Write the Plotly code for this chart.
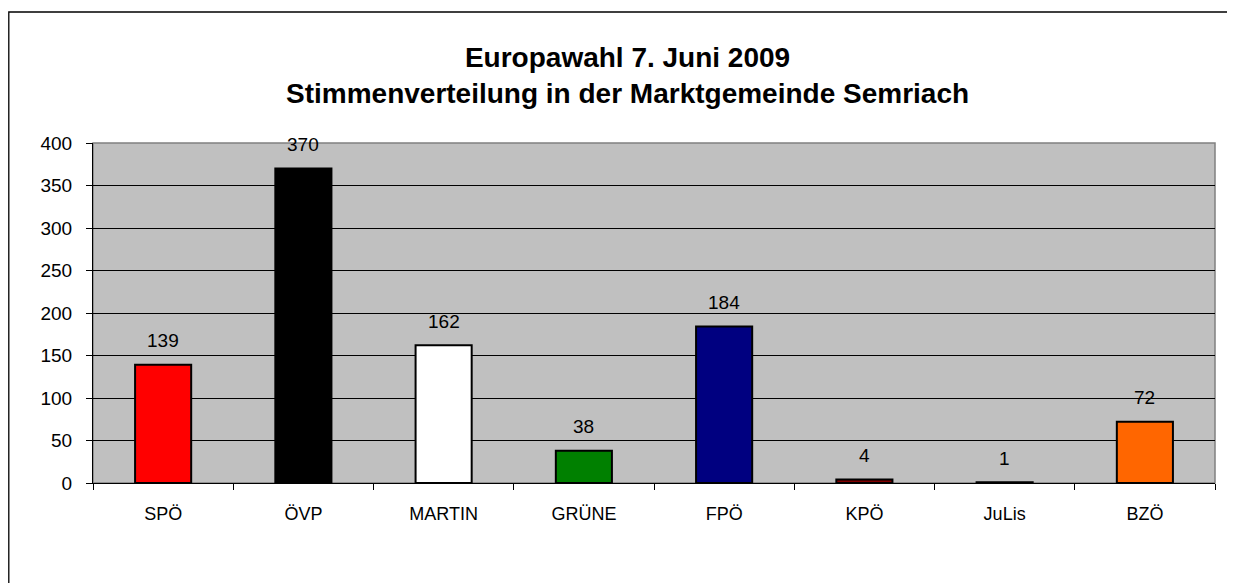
import plotly.graph_objects as go

parties = ["SPÖ", "ÖVP", "MARTIN", "GRÜNE", "FPÖ", "KPÖ", "JuLis", "BZÖ"]
votes = [139, 370, 162, 38, 184, 4, 1, 72]
colors = ["#FF0000", "#000000", "#FFFFFF", "#008000", "#000080", "#800000", "#000000", "#FF6600"]
y_ticks = [0, 50, 100, 150, 200, 250, 300, 350, 400]

FONT = "Liberation Sans, Arial, sans-serif"
# page body has an 8px default margin, so compensate
OFF = 8
L, T, PW, PH = 93 - OFF, 143 - OFF, 1122, 340
W, H = 1235 - OFF, 583 - OFF

fig = go.Figure()
fig.add_trace(go.Bar(
    x=parties, y=votes,
    marker=dict(color=colors, line=dict(color="#000000", width=2)),
    width=0.4,
    showlegend=False,
))

for p, v in zip(parties, votes):
    fig.add_annotation(x=p, y=v, text=str(v), showarrow=False,
                       yanchor="middle", yshift=24,
                       font=dict(family=FONT, size=19, color="#000000"))

fig.add_annotation(xref="paper", yref="paper", x=0.476, y=1.0, yanchor="middle",
                   yshift=68,
                   text="<b>Europawahl 7. Juni 2009<br>Stimmenverteilung in der Marktgemeinde Semriach</b>",
                   showarrow=False, align="center",
                   font=dict(family=FONT, size=28, color="#000000"))

# outer chart border
fig.add_shape(type="rect", xref="paper", yref="paper",
              x0=(0.8 - L) / PW, x1=1 + 40 / PW,
              y0=-(110) / PH, y1=1 + (T - 4) / PH,
              line=dict(color="#000000", width=1.3), fillcolor="rgba(0,0,0,0)",
              layer="below")

fig.update_layout(
    width=W, height=H,
    margin=dict(l=L, r=W - L - PW, t=T, b=H - T - PH),
    paper_bgcolor="#FFFFFF",
    plot_bgcolor="#C0C0C0",
    font=dict(family=FONT, size=18, color="#000000"),
    bargap=0.6,
)
fig.update_xaxes(
    type="category", tickson="boundaries", ticks="outside", ticklen=6,
    tickcolor="#000000", showline=True, linecolor="#000000", linewidth=1,
    showgrid=False, ticklabelstandoff=14,
    tickfont=dict(family=FONT, size=18, color="#000000"),
)
fig.update_yaxes(
    range=[0, 400], tickvals=y_ticks, ticks="outside", ticklen=6,
    tickcolor="#000000", showline=True, linecolor="#000000", linewidth=1,
    showgrid=True, gridcolor="#000000", gridwidth=1, zeroline=False,
    ticklabelstandoff=10,
    tickfont=dict(family=FONT, size=19, color="#000000"),
)
# plot area border
fig.add_shape(type="rect", xref="paper", yref="paper", x0=0, x1=1, y0=0, y1=1,
              line=dict(color="#808080", width=1.5), fillcolor="rgba(0,0,0,0)",
              layer="below")

fig.write_html("out.html")
